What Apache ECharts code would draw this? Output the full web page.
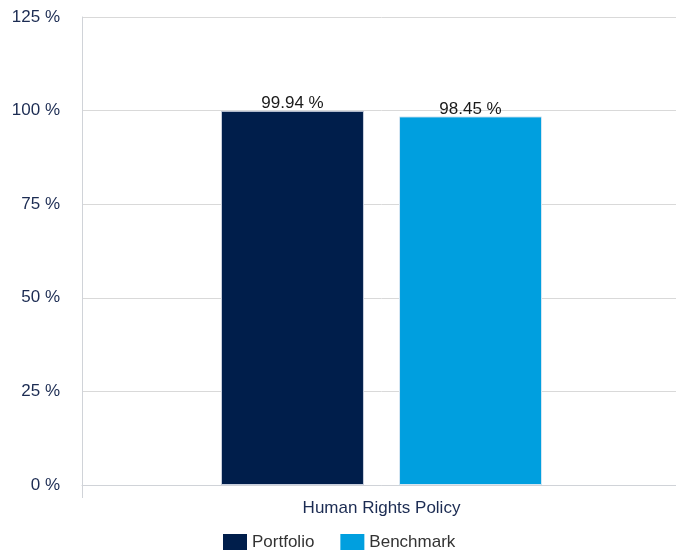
<!DOCTYPE html>
<html><head><meta charset="utf-8">
<script src="https://cdn.jsdelivr.net/npm/echarts@6/dist/echarts.min.js"></script>
<style>html,body{margin:0;padding:0;background:#fff;overflow:hidden}#c{width:681px;height:550px}</style>
</head><body><div id="c"></div>
<script>
const categories = ['Human Rights Policy'];
const seriesNames = ['Portfolio', 'Benchmark'];
const portfolio = [99.94];
const benchmark = [98.45];
const yTicks = [0, 25, 50, 75, 100, 125];

const font = '"Liberation Sans", Arial, sans-serif';
const navy = '#1b2b52';
const chart = echarts.init(document.getElementById('c'));
chart.setOption({
  animation: false,
  grid: { left: 82, right: 0, top: 17, bottom: 65 },
  legend: {
    data: seriesNames, bottom: -6, left: 218, itemWidth: 24, itemHeight: 17, itemGap: 26,
    icon: 'rect', itemStyle: { borderWidth: 0 },
    textStyle: { fontFamily: font, fontSize: 17, color: '#333' }
  },
  xAxis: {
    type: 'category', data: categories,
    axisLine: { lineStyle: { color: '#d0d3d8' } },
    axisTick: { show: true, length: 13, lineStyle: { color: '#d0d3d8' } },
    axisLabel: { fontFamily: font, fontSize: 17, color: navy, margin: 15 }
  },
  yAxis: {
    type: 'value', min: yTicks[0], max: yTicks[yTicks.length - 1], interval: 25,
    axisLine: { show: true, lineStyle: { color: '#d0d3d8' } },
    splitLine: { lineStyle: { color: '#d9d9d9' } },
    axisLabel: { fontFamily: font, fontSize: 17, color: navy, margin: 22, formatter: v => v + ' %' }
  },
  series: [
    { name: seriesNames[0], type: 'bar', data: portfolio, barWidth: 143, barGap: '24.5%',
      itemStyle: { color: '#001e4b', borderColor: '#c9d0de', borderWidth: 1 },
      label: { show: true, position: 'top', distance: -1, fontFamily: font, fontSize: 17, color: '#1a1a1a',
        formatter: p => p.value.toFixed(2) + ' %' } },
    { name: seriesNames[1], type: 'bar', data: benchmark, barWidth: 143,
      itemStyle: { color: '#009fdf', borderColor: '#d5e6f2', borderWidth: 1 },
      label: { show: true, position: 'top', distance: -1, fontFamily: font, fontSize: 17, color: '#1a1a1a',
        formatter: p => p.value.toFixed(2) + ' %' } }
  ]
});
</script></body></html>
